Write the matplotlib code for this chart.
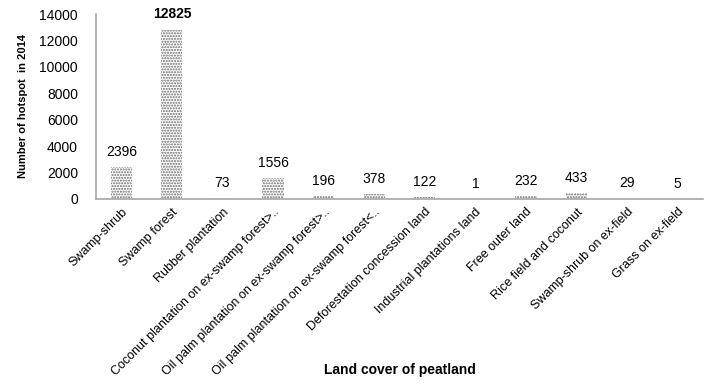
import numpy as np
import matplotlib.pyplot as plt

plt.rcParams['font.family'] = ['Liberation Sans', 'DejaVu Sans']
plt.rcParams['hatch.linewidth'] = 1.0

land_cover = [
    'Swamp-shrub',
    'Swamp forest',
    'Rubber plantation',
    'Coconut plantation on ex-swamp forest>..',
    'Oil palm plantation on ex-swamp forest>..',
    'Oil palm plantation on ex-swamp forest<..',
    'Deforestation concession land',
    'Industrial plantations land',
    'Free outer land',
    'Rice field and coconut',
    'Swamp-shrub on ex-field',
    'Grass on ex-field',
]
hotspots = [2396, 12825, 73, 1556, 196, 378, 122, 1, 232, 433, 29, 5]

fig = plt.figure(figsize=(7.08, 3.85), dpi=100)
ax = fig.add_axes([96 / 708, 1 - 199 / 385, 607 / 708, 185 / 385])

x = np.arange(len(hotspots))
ax.bar(x, hotspots, width=0.42, color='white', edgecolor='#6a6a6a',
       linewidth=0, hatch='......')

# value labels, the tallest bar in bold
top = int(np.argmax(hotspots))
for i, v in enumerate(hotspots):
    ax.annotate(str(v), (i, v), xytext=(0, 6), textcoords='offset points',
                ha='center', va='bottom', fontsize=10,
                fontweight='bold' if i == top else 'normal')

ax.set_xlim(-0.5, len(hotspots) - 0.5)
ax.set_ylim(0, 14000)
ax.set_yticks(range(0, 14001, 2000))
ax.set_xticks(x)
ax.set_xticklabels(land_cover, rotation=45, ha='right', rotation_mode='anchor', fontsize=9)
ax.tick_params(axis='both', length=0)
ax.tick_params(axis='y', pad=13, labelsize=10)
ax.tick_params(axis='x', pad=5)

for s in ['top', 'right']:
    ax.spines[s].set_visible(False)
for s in ['left', 'bottom']:
    ax.spines[s].set_color('#a6a6a6')
    ax.spines[s].set_linewidth(1.2)

ax.set_ylabel('Number of hotspot  in 2014', fontsize=8, fontweight='bold', labelpad=8)
fig.text(400 / 708, 1 - 370 / 385, 'Land cover of peatland', ha='center', va='center',
         fontsize=10, fontweight='bold')

fig.savefig('out.png', dpi=100)
